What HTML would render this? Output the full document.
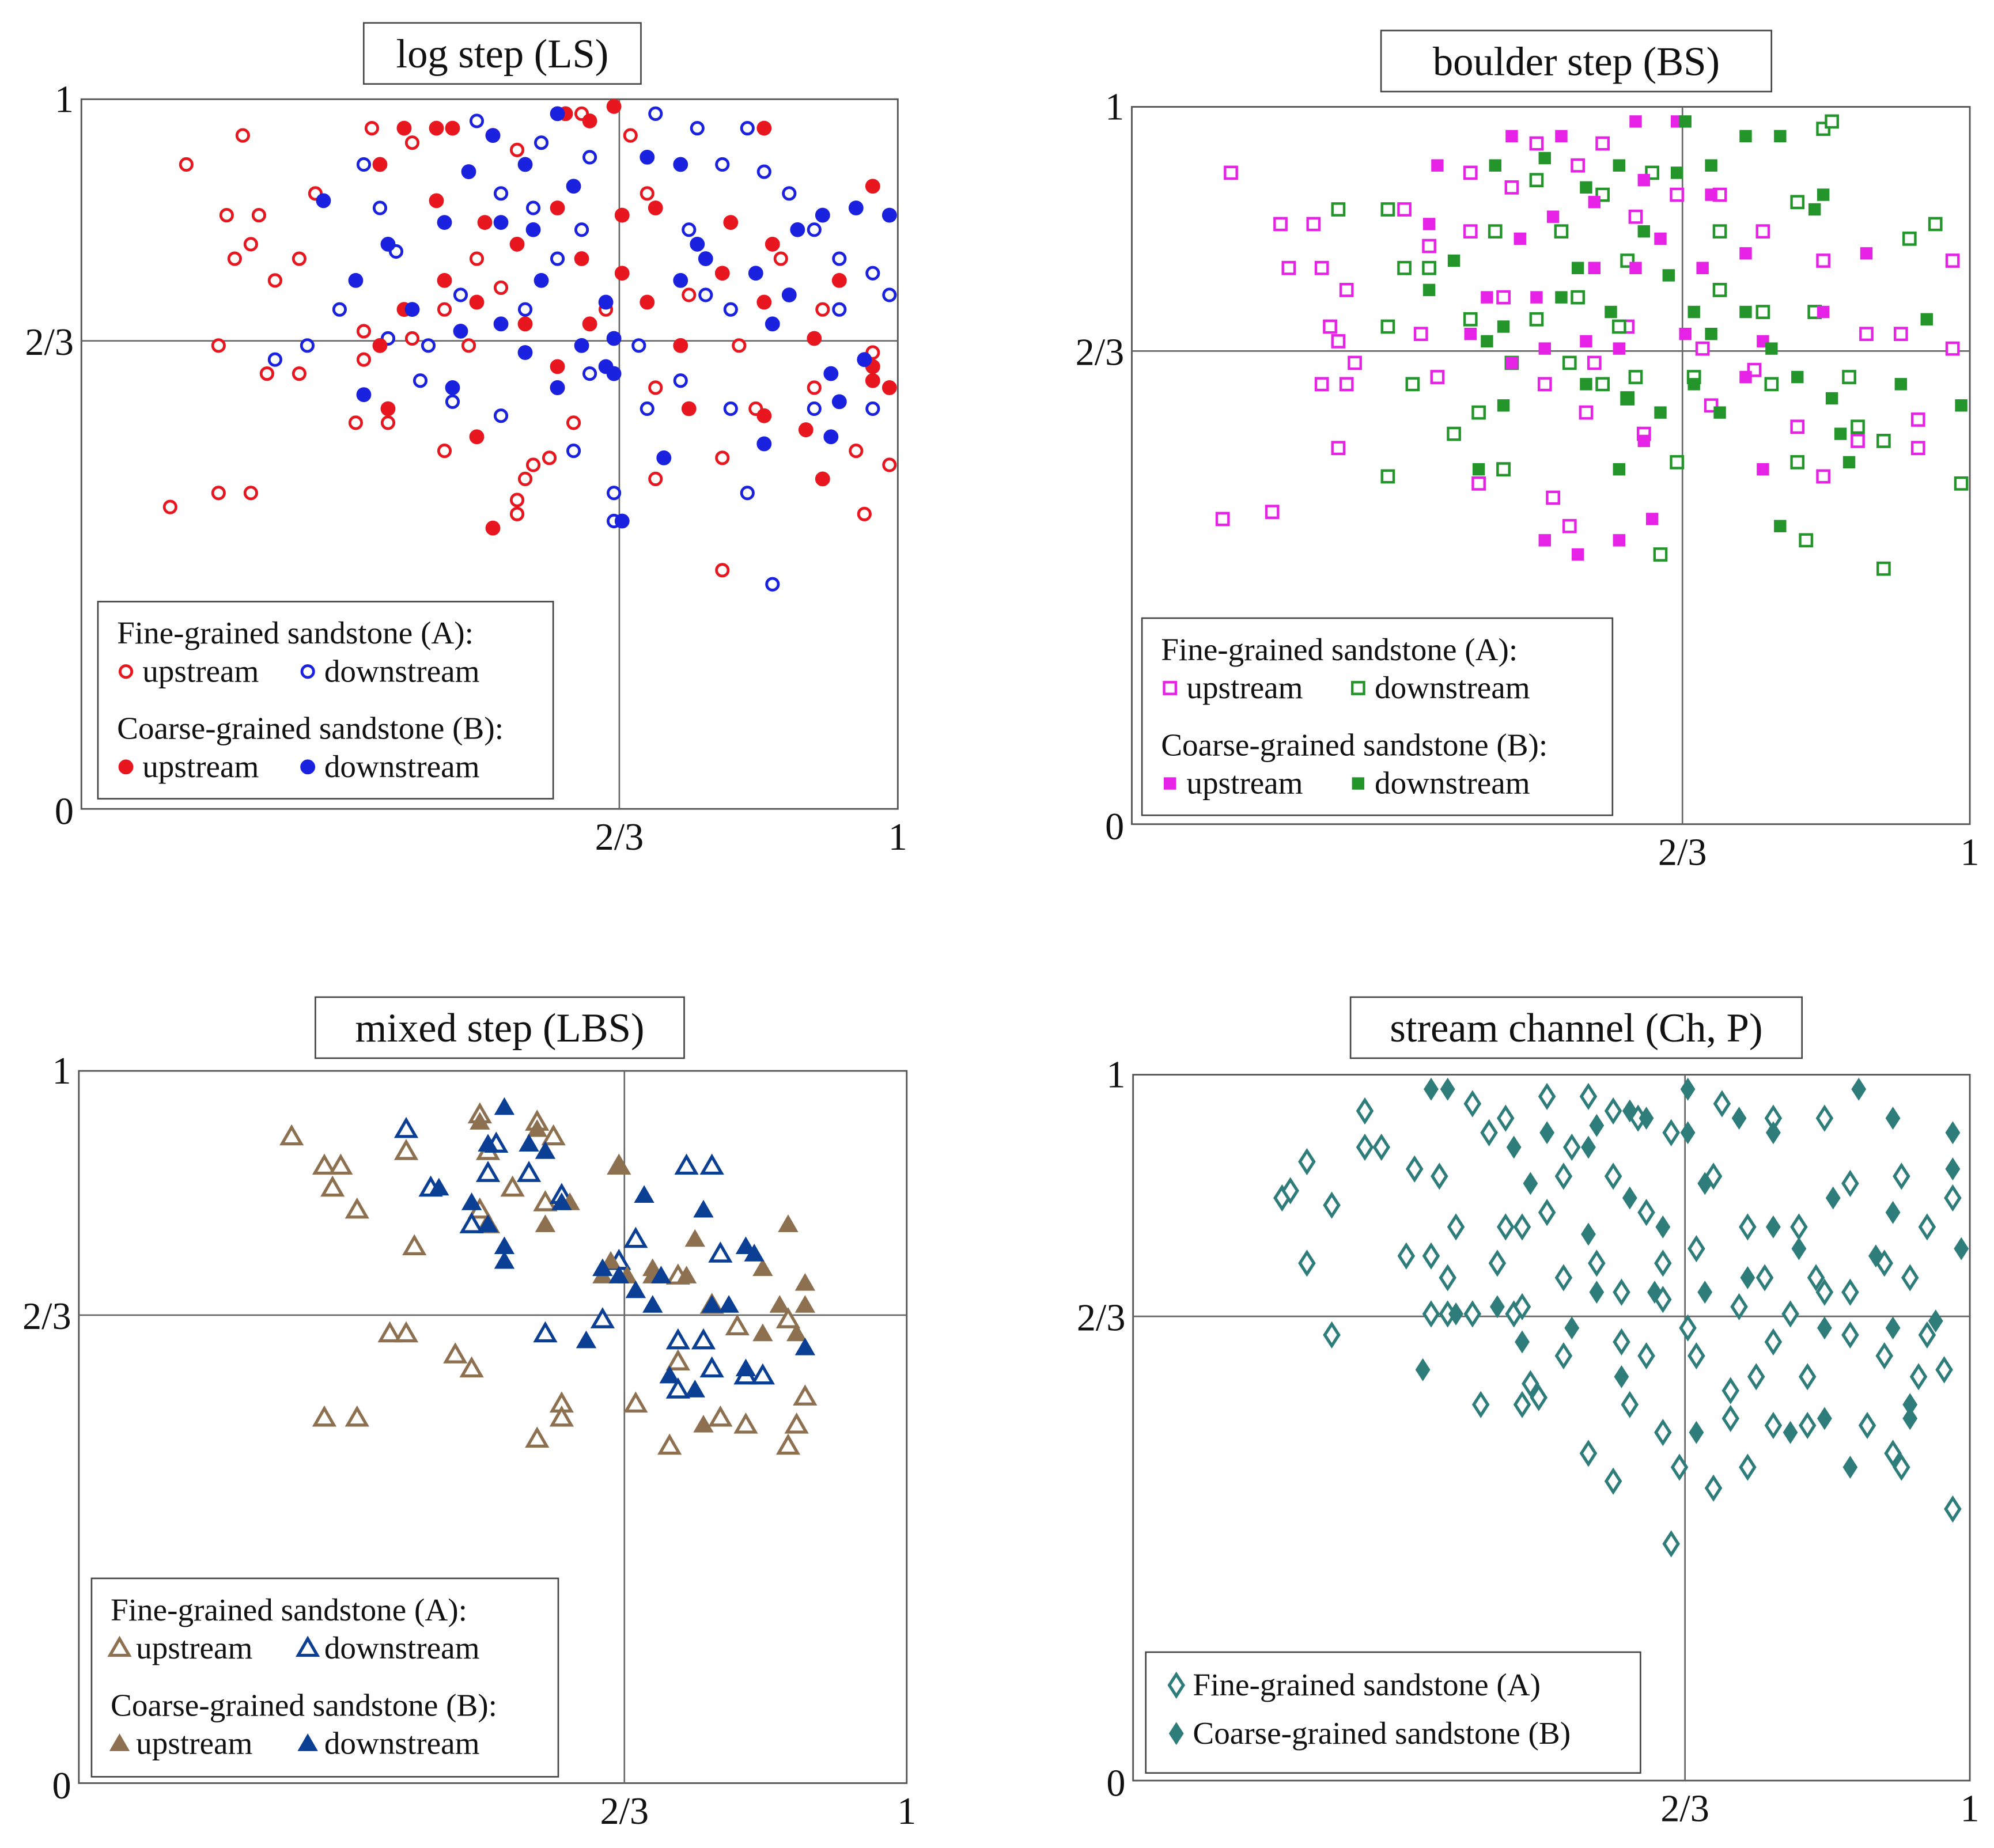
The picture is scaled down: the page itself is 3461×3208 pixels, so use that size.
<!DOCTYPE html>
<html><head><meta charset="utf-8">
<style>
html,body{margin:0;padding:0;background:#fff;}
svg{display:block;}
text{font-family:"Liberation Serif",serif;fill:#111;}
</style></head>
<body>
<svg id="chart" xmlns="http://www.w3.org/2000/svg" width="3461" height="3208" viewBox="0 0 1568 1453" preserveAspectRatio="none"></svg>
<script>
// ---- data (fractions of axis 0..1) ----
const lsUpA=[[0.13,0.91],[0.20,0.95],[0.18,0.84],[0.22,0.84],[0.19,0.78],[0.21,0.80],[0.24,0.75],[0.27,0.78],[0.17,0.66],[0.23,0.62],[0.27,0.62],[0.11,0.43],[0.17,0.45],[0.21,0.45],[0.29,0.87],[0.36,0.96],[0.35,0.68],[0.35,0.64],[0.34,0.55],[0.38,0.55],[0.41,0.94],[0.45,0.51],[0.49,0.53],[0.56,0.49],[0.55,0.47],[0.54,0.42],[0.58,0.50],[0.59,0.60],[0.61,0.55],[0.65,0.71],[0.70,0.87],[0.71,0.47],[0.79,0.34],[0.79,0.50],[0.83,0.57],[0.90,0.60],[0.95,0.51],[0.96,0.42],[0.99,0.49],[0.97,0.65],[0.91,0.71],[0.86,0.78],[0.81,0.66],[0.75,0.73],[0.54,0.93],[0.62,0.98],[0.68,0.95],[0.49,0.78],[0.52,0.74],[0.45,0.71],[0.41,0.67],[0.48,0.66],[0.71,0.60],[0.54,0.44]];
const lsDownA=[[0.85,0.32],[0.66,0.41],[0.66,0.45],[0.61,0.51],[0.52,0.56],[0.46,0.58],[0.42,0.61],[0.38,0.67],[0.32,0.71],[0.24,0.64],[0.28,0.66],[0.35,0.91],[0.37,0.85],[0.39,0.79],[0.49,0.97],[0.52,0.87],[0.57,0.94],[0.63,0.92],[0.71,0.98],[0.76,0.96],[0.79,0.91],[0.82,0.96],[0.84,0.90],[0.87,0.87],[0.90,0.82],[0.93,0.78],[0.97,0.76],[0.99,0.73],[0.93,0.71],[0.90,0.57],[0.80,0.71],[0.77,0.73],[0.74,0.61],[0.70,0.57],[0.80,0.57],[0.82,0.45],[0.63,0.62],[0.59,0.78],[0.55,0.71],[0.62,0.82],[0.43,0.66],[0.47,0.73],[0.56,0.85],[0.69,0.66],[0.75,0.82],[0.97,0.57]];
const lsUpB=[[0.40,0.96],[0.44,0.96],[0.46,0.96],[0.51,0.95],[0.60,0.98],[0.63,0.97],[0.66,0.99],[0.84,0.96],[0.37,0.91],[0.44,0.86],[0.50,0.83],[0.54,0.80],[0.59,0.85],[0.62,0.78],[0.67,0.84],[0.71,0.85],[0.80,0.83],[0.85,0.80],[0.97,0.88],[0.93,0.75],[0.97,0.63],[0.97,0.61],[0.99,0.60],[0.90,0.67],[0.84,0.72],[0.79,0.76],[0.74,0.66],[0.70,0.72],[0.67,0.76],[0.63,0.69],[0.59,0.63],[0.59,0.60],[0.55,0.69],[0.49,0.72],[0.45,0.75],[0.40,0.71],[0.38,0.57],[0.49,0.53],[0.51,0.40],[0.75,0.57],[0.84,0.56],[0.89,0.54],[0.91,0.47],[0.37,0.66]];
const lsDownB=[[0.30,0.86],[0.38,0.80],[0.34,0.75],[0.41,0.71],[0.45,0.83],[0.48,0.90],[0.51,0.95],[0.55,0.91],[0.59,0.98],[0.56,0.82],[0.61,0.88],[0.65,0.72],[0.66,0.67],[0.65,0.63],[0.62,0.66],[0.55,0.65],[0.52,0.69],[0.47,0.68],[0.35,0.59],[0.46,0.60],[0.59,0.60],[0.66,0.62],[0.72,0.50],[0.84,0.52],[0.74,0.75],[0.76,0.80],[0.70,0.92],[0.74,0.91],[0.77,0.78],[0.83,0.76],[0.85,0.69],[0.88,0.82],[0.91,0.84],[0.95,0.85],[0.99,0.84],[0.87,0.73],[0.92,0.62],[0.96,0.64],[0.93,0.58],[0.92,0.53],[0.67,0.41],[0.52,0.83],[0.57,0.75]];

const bsUpA=[[0.12,0.91],[0.18,0.84],[0.22,0.84],[0.19,0.78],[0.23,0.78],[0.26,0.75],[0.24,0.70],[0.25,0.68],[0.27,0.65],[0.23,0.62],[0.26,0.62],[0.25,0.53],[0.11,0.43],[0.17,0.44],[0.33,0.86],[0.36,0.81],[0.41,0.91],[0.41,0.83],[0.46,0.89],[0.49,0.95],[0.54,0.92],[0.57,0.95],[0.61,0.85],[0.66,0.88],[0.71,0.88],[0.76,0.83],[0.83,0.79],[0.88,0.69],[0.92,0.69],[0.98,0.79],[0.98,0.67],[0.94,0.57],[0.94,0.53],[0.87,0.54],[0.83,0.49],[0.80,0.56],[0.75,0.64],[0.70,0.59],[0.62,0.55],[0.55,0.58],[0.50,0.62],[0.45,0.50],[0.42,0.48],[0.51,0.46],[0.53,0.42],[0.37,0.63],[0.35,0.69],[0.45,0.74],[0.56,0.65],[0.60,0.70],[0.69,0.67]];
const bsDownA=[[0.25,0.86],[0.31,0.86],[0.33,0.78],[0.31,0.70],[0.34,0.62],[0.39,0.55],[0.31,0.49],[0.45,0.50],[0.42,0.58],[0.46,0.65],[0.44,0.83],[0.49,0.90],[0.52,0.83],[0.54,0.74],[0.57,0.88],[0.60,0.79],[0.59,0.70],[0.61,0.63],[0.60,0.60],[0.64,0.38],[0.66,0.51],[0.68,0.63],[0.71,0.75],[0.76,0.72],[0.80,0.87],[0.83,0.97],[0.84,0.98],[0.82,0.72],[0.86,0.63],[0.87,0.56],[0.90,0.54],[0.90,0.36],[0.93,0.82],[0.96,0.84],[0.99,0.48],[0.80,0.51],[0.81,0.40],[0.77,0.62],[0.71,0.83],[0.63,0.91],[0.57,0.62],[0.53,0.65],[0.49,0.71],[0.41,0.71],[0.36,0.78]];
const bsUpB=[[0.37,0.92],[0.46,0.96],[0.52,0.96],[0.61,0.98],[0.66,0.98],[0.70,0.88],[0.62,0.90],[0.56,0.87],[0.51,0.85],[0.47,0.82],[0.43,0.74],[0.49,0.74],[0.56,0.78],[0.61,0.78],[0.64,0.82],[0.69,0.78],[0.74,0.80],[0.76,0.68],[0.74,0.63],[0.67,0.69],[0.59,0.67],[0.55,0.68],[0.50,0.67],[0.46,0.65],[0.62,0.54],[0.63,0.43],[0.59,0.40],[0.54,0.38],[0.50,0.40],[0.76,0.50],[0.83,0.72],[0.88,0.80],[0.41,0.69],[0.36,0.84]];
const bsDownB=[[0.44,0.92],[0.50,0.93],[0.55,0.89],[0.59,0.92],[0.67,0.98],[0.74,0.96],[0.78,0.96],[0.66,0.91],[0.70,0.92],[0.62,0.83],[0.65,0.77],[0.68,0.72],[0.70,0.69],[0.58,0.72],[0.54,0.78],[0.52,0.74],[0.45,0.70],[0.43,0.68],[0.36,0.75],[0.39,0.79],[0.45,0.59],[0.42,0.50],[0.55,0.62],[0.60,0.60],[0.64,0.58],[0.68,0.62],[0.74,0.72],[0.77,0.67],[0.80,0.63],[0.82,0.86],[0.83,0.88],[0.84,0.60],[0.85,0.55],[0.86,0.51],[0.92,0.62],[0.95,0.71],[0.99,0.59],[0.78,0.42],[0.59,0.50],[0.71,0.58]];

const lbsUpA=[[0.26,0.91],[0.30,0.87],[0.32,0.87],[0.31,0.84],[0.34,0.81],[0.40,0.89],[0.41,0.76],[0.38,0.64],[0.40,0.64],[0.46,0.61],[0.48,0.59],[0.30,0.52],[0.34,0.52],[0.49,0.94],[0.50,0.89],[0.53,0.84],[0.56,0.93],[0.58,0.91],[0.57,0.82],[0.49,0.81],[0.50,0.79],[0.56,0.49],[0.59,0.54],[0.59,0.52],[0.66,0.87],[0.68,0.54],[0.72,0.48],[0.73,0.72],[0.77,0.68],[0.80,0.65],[0.86,0.66],[0.88,0.55],[0.87,0.51],[0.86,0.48],[0.81,0.51],[0.78,0.52],[0.73,0.60]];
const lbsDownA=[[0.40,0.92],[0.43,0.84],[0.50,0.86],[0.51,0.90],[0.55,0.86],[0.59,0.83],[0.48,0.79],[0.57,0.64],[0.64,0.66],[0.66,0.74],[0.74,0.87],[0.77,0.87],[0.68,0.77],[0.73,0.63],[0.76,0.63],[0.77,0.59],[0.81,0.58],[0.83,0.58],[0.73,0.56],[0.78,0.75]];
const lbsUpB=[[0.49,0.93],[0.56,0.92],[0.66,0.87],[0.60,0.82],[0.57,0.79],[0.65,0.74],[0.67,0.72],[0.70,0.73],[0.75,0.77],[0.74,0.72],[0.83,0.73],[0.86,0.79],[0.88,0.71],[0.88,0.68],[0.85,0.68],[0.87,0.64],[0.83,0.64],[0.76,0.51],[0.70,0.72],[0.64,0.72]];
const lbsDownB=[[0.52,0.95],[0.55,0.90],[0.57,0.89],[0.50,0.90],[0.44,0.84],[0.48,0.82],[0.52,0.76],[0.50,0.79],[0.59,0.82],[0.52,0.74],[0.62,0.63],[0.64,0.73],[0.66,0.72],[0.68,0.70],[0.70,0.68],[0.69,0.83],[0.76,0.81],[0.81,0.76],[0.82,0.75],[0.77,0.68],[0.79,0.68],[0.72,0.58],[0.75,0.56],[0.81,0.59],[0.88,0.62],[0.71,0.72]];

const chA=[[0.18,0.83],[0.19,0.84],[0.21,0.88],[0.21,0.74],[0.24,0.82],[0.24,0.64],[0.28,0.90],[0.28,0.95],[0.30,0.90],[0.33,0.75],[0.34,0.87],[0.36,0.67],[0.37,0.86],[0.38,0.72],[0.38,0.67],[0.42,0.54],[0.41,0.96],[0.43,0.92],[0.45,0.79],[0.45,0.94],[0.46,0.67],[0.47,0.54],[0.48,0.57],[0.49,0.55],[0.50,0.97],[0.50,0.81],[0.52,0.72],[0.53,0.90],[0.55,0.97],[0.55,0.47],[0.58,0.86],[0.58,0.43],[0.59,0.63],[0.61,0.94],[0.62,0.61],[0.64,0.74],[0.64,0.69],[0.65,0.34],[0.66,0.45],[0.68,0.61],[0.70,0.42],[0.71,0.96],[0.72,0.52],[0.74,0.45],[0.75,0.58],[0.77,0.51],[0.77,0.94],[0.79,0.67],[0.81,0.51],[0.82,0.72],[0.83,0.94],[0.86,0.64],[0.88,0.51],[0.90,0.74],[0.91,0.47],[0.92,0.45],[0.93,0.72],[0.95,0.64],[0.97,0.59],[0.98,0.39],[0.98,0.83],[0.95,0.79],[0.92,0.86],[0.86,0.85],[0.80,0.79],[0.74,0.79],[0.68,0.76],[0.62,0.81],[0.56,0.74],[0.52,0.61],[0.47,0.68],[0.44,0.74],[0.41,0.67],[0.39,0.79],[0.36,0.75],[0.59,0.70],[0.67,0.65],[0.73,0.68],[0.77,0.63],[0.83,0.70],[0.90,0.61],[0.94,0.58],[0.70,0.86],[0.65,0.92],[0.58,0.95],[0.47,0.79],[0.52,0.86],[0.76,0.72],[0.81,0.58],[0.86,0.70],[0.60,0.54],[0.72,0.56],[0.64,0.50]];
const chB=[[0.36,0.98],[0.38,0.98],[0.46,0.90],[0.50,0.92],[0.55,0.90],[0.56,0.93],[0.60,0.95],[0.62,0.94],[0.67,0.98],[0.67,0.92],[0.73,0.94],[0.77,0.92],[0.87,0.98],[0.91,0.94],[0.98,0.92],[0.98,0.87],[0.99,0.76],[0.96,0.66],[0.93,0.52],[0.93,0.54],[0.91,0.65],[0.89,0.75],[0.91,0.81],[0.83,0.52],[0.86,0.45],[0.84,0.83],[0.79,0.50],[0.77,0.79],[0.74,0.72],[0.69,0.85],[0.68,0.50],[0.64,0.79],[0.63,0.70],[0.60,0.83],[0.59,0.58],[0.56,0.70],[0.55,0.78],[0.53,0.65],[0.48,0.85],[0.47,0.63],[0.39,0.67],[0.35,0.59],[0.44,0.68],[0.83,0.65],[0.69,0.70],[0.80,0.76]];

const tickLabels=["0","2/3","1"];
const tickValues=[0,2/3,1];

// ---- drawing ----
const NS="http://www.w3.org/2000/svg";
const svg=document.getElementById('chart');
function mk(tag,attrs,parent){const e=document.createElementNS(NS,tag);for(const k in attrs)e.setAttribute(k,attrs[k]);(parent||svg).appendChild(e);return e;}
function txt(x,y,s,size,anchor,parent){const t=mk('text',{x:x,y:y,'font-size':size,'text-anchor':anchor||'start'},parent);t.textContent=s;return t;}

function marker(g,shape,filled,color,x,y){
  let e;
  if(shape==='circle'){e=mk('circle',{cx:x,cy:y,r:filled?5.6:4.6,fill:filled?color:'#fff','stroke':color,'stroke-width':filled?0.5:2.2},g);}
  else if(shape==='square'){e=mk('rect',{x:x-4.6,y:y-4.6,width:9.2,height:9.2,fill:filled?color:'#fff',stroke:color,'stroke-width':filled?0.5:2},g);}
  else if(shape==='tri'){e=mk('path',{d:`M${x},${y-7.5} L${x+7.5},${y+5.5} L${x-7.5},${y+5.5} Z`,fill:filled?color:'#fff',stroke:color,'stroke-width':filled?0.6:2.4,'stroke-linejoin':'miter'},g);}
  else {e=mk('path',{d:`M${x},${y-8.5} L${x+5.5},${y} L${x},${y+8.5} L${x-5.5},${y} Z`,fill:filled?color:'#fff',stroke:color,'stroke-width':filled?0.6:2.4},g);}
  return e;
}

function panel(cfg){
  const g=mk('g',{});
  
  
  const sx=v=>v<=2/3?cfg.x0+v/(2/3)*(cfg.xm-cfg.x0):cfg.xm+(v-2/3)/(1/3)*(cfg.x1-cfg.xm);
  const sy=v=>v<=2/3?cfg.y1-v/(2/3)*(cfg.y1-cfg.ym):cfg.ym-(v-2/3)/(1/3)*(cfg.ym-cfg.y0);
  const tb=mk('rect',{x:cfg.tx,y:cfg.ty,width:cfg.tw,height:48,fill:'#fff',stroke:'#444','stroke-width':1.2},g);
  
  
  const tt=txt(cfg.tx+cfg.tw/2,cfg.ty+35,cfg.title,32,'middle',g);
  
  
  const fr=mk('rect',{x:cfg.x0,y:cfg.y0,width:cfg.x1-cfg.x0,height:cfg.y1-cfg.y0,fill:'#fff',stroke:'#555','stroke-width':1.3},g);
  
  
  const vl=mk('line',{x1:sx(2/3),x2:sx(2/3),y1:cfg.y0,y2:cfg.y1,stroke:'#666','stroke-width':1.2},g);
  
  
  const hl=mk('line',{x1:cfg.x0,x2:cfg.x1,y1:sy(2/3),y2:sy(2/3),stroke:'#666','stroke-width':1.2},g);
  
  
  tickValues.forEach((v,i)=>{
    const yl=txt(cfg.x0-6,sy(v)+(v===1?10:v===0?12:11),tickLabels[i],30,'end',g);
    
    
    if(v>0){
      const xl=txt(sx(v),cfg.y1+32,tickLabels[i],30,'middle',g);
      
      
    }
  });
  cfg.series.forEach(s=>{
    const sg=mk('g',{},g);
    
    
    s.data.forEach(d=>{
      const m=marker(sg,cfg.shape,s.filled,s.color,sx(d[0]),sy(d[1]));
      
      
    });
  });
  const L=cfg.legend;
  const lg=mk('g',{},g);
  
  
  mk('rect',{x:L.x,y:L.y,width:L.w,height:L.h,fill:'#fff',stroke:'#444','stroke-width':1.2},lg);
  L.items.forEach(it=>{
    if(it.head){const t=txt(L.x+15,it.y,it.head,25,'start',lg);}
    else{
      const m=marker(lg,cfg.shape,it.filled,it.color,it.mx,it.y-8);
      
      
      const t=txt(it.mx+13,it.y,it.label,25,'start',lg);
      
      
    }
  });
}

const RED='#e8161e',BLUE='#1a22e0',MAG='#e622e6',GRN='#23952a',BRN='#8d7050',DBL='#0b3f94',TEAL='#2e7d7b';
function fourLegend(x,y,w,h,c1,c2,f,dx){
  return {x:x,y:y,w:w,h:h,items:[
    {head:'Fine-grained sandstone (A):',y:y+33},
    {mx:x+22,y:y+63,color:c1,filled:false,label:'upstream'},
    {mx:x+22+dx,y:y+63,color:c2,filled:false,label:'downstream'},
    {head:'Coarse-grained sandstone (B):',y:y+108},
    {mx:x+22,y:y+138,color:c1,filled:true,label:'upstream'},
    {mx:x+22+dx,y:y+138,color:c2,filled:true,label:'downstream'}]};
}
panel({name:'log-step',title:'log step (LS)',tx:286,ty:18,tw:218,x0:64,xm:487,x1:706,y0:78,ym:268,y1:636,shape:'circle',
  series:[{key:'a-up',data:lsUpA,color:RED,filled:false},{key:'a-down',data:lsDownA,color:BLUE,filled:false},{key:'b-up',data:lsUpB,color:RED,filled:true},{key:'b-down',data:lsDownB,color:BLUE,filled:true}],
  legend:fourLegend(77,473,358,155,RED,BLUE,0,143)});
panel({name:'boulder-step',title:'boulder step (BS)',tx:1086,ty:24,tw:307,x0:890,xm:1323,x1:1549,y0:84,ym:276,y1:648,shape:'square',
  series:[{key:'a-up',data:bsUpA,color:MAG,filled:false},{key:'a-down',data:bsDownA,color:GRN,filled:false},{key:'b-up',data:bsUpB,color:MAG,filled:true},{key:'b-down',data:bsDownB,color:GRN,filled:true}],
  legend:fourLegend(898,486,370,155,MAG,GRN,0,148)});
panel({name:'mixed-step',title:'mixed step (LBS)',tx:248,ty:784,tw:290,x0:62,xm:491,x1:713,y0:842,ym:1034,y1:1402,shape:'tri',
  series:[{key:'a-up',data:lbsUpA,color:BRN,filled:false},{key:'a-down',data:lbsDownA,color:DBL,filled:false},{key:'b-up',data:lbsUpB,color:BRN,filled:true},{key:'b-down',data:lbsDownB,color:DBL,filled:true}],
  legend:fourLegend(72,1241,367,156,BRN,DBL,0,148)});
panel({name:'stream-channel',title:'stream channel (Ch, P)',tx:1062,ty:784,tw:355,x0:891,xm:1325,x1:1549,y0:845,ym:1035,y1:1400,shape:'diamond',
  series:[{key:'a',data:chA,color:TEAL,filled:false},{key:'b',data:chB,color:TEAL,filled:true}],
  legend:{x:901,y:1299,w:389,h:95,items:[
    {mx:925,y:1333,color:TEAL,filled:false,label:'Fine-grained sandstone (A)'},
    {mx:925,y:1371,color:TEAL,filled:true,label:'Coarse-grained sandstone (B)'}]}});
</script>
</body></html>
